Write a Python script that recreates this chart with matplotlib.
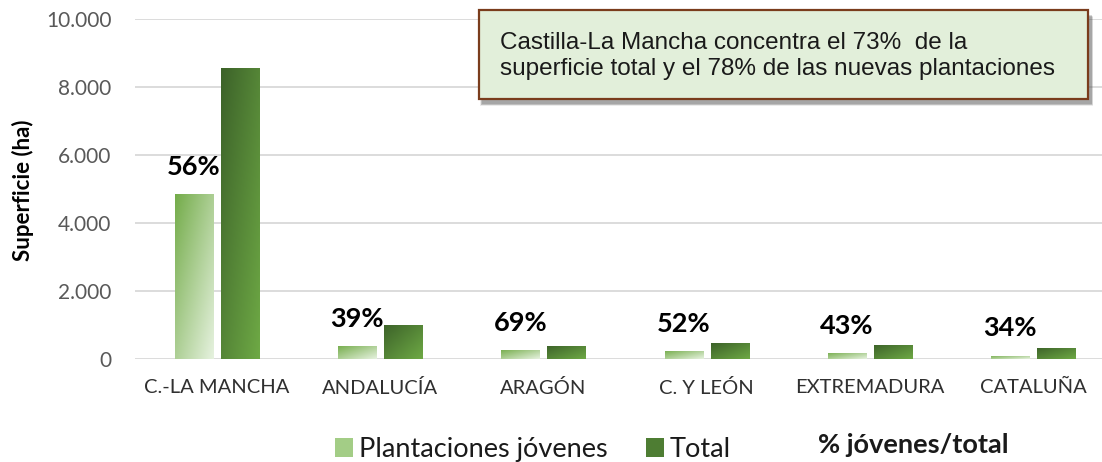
import numpy as np
import matplotlib
matplotlib.use("Agg")
from matplotlib import pyplot as plt
from matplotlib.patches import Patch, Rectangle
from matplotlib.ticker import FuncFormatter

# data
regions = ['C.-LA MANCHA', 'ANDALUCÍA', 'ARAGÓN', 'C. Y LEÓN', 'EXTREMADURA', 'CATALUÑA']
young = [4850, 390, 270, 245, 180, 110]
total = [8580, 1010, 390, 470, 420, 325]
pct_labels = ['56%', '39%', '69%', '52%', '43%', '34%']

plt.rcParams['font.family'] = ['Lato', 'DejaVu Sans']

W, H = 1102, 462
fig = plt.figure(figsize=(W / 100, H / 100), dpi=100)
ax = fig.add_axes([135 / W, 102.7 / H, 1 - 135 / W, 340 / H])

x = np.arange(len(regions))
w = 0.233
off = 0.141
bars_y = ax.bar(x - off, young, w, color='none', zorder=3)
bars_t = ax.bar(x + off, total, w, color='none', zorder=3)


# gradient fill, top-left colour to bottom-right colour
def grad_fill(bar, c1, c2):
    c1 = np.array(matplotlib.colors.to_rgb(c1))
    c2 = np.array(matplotlib.colors.to_rgb(c2))
    n = 64
    u, v = np.meshgrid(np.linspace(0, 1, n), np.linspace(0, 1, n))
    t = (0.5 * u + 0.5 * v)[..., None]
    img = c1 * (1 - t) + c2 * t
    x0, y0 = bar.get_x(), bar.get_y()
    im = ax.imshow(img, extent=[x0, x0 + bar.get_width(), y0, y0 + bar.get_height()],
                   aspect='auto', origin='upper', zorder=3, interpolation='bilinear')
    im.set_clip_path(bar)


for b in bars_y:
    grad_fill(b, '#74ac4a', '#e6f2df')
for b in bars_t:
    grad_fill(b, '#3c6229', '#6ea945')

for i, b in enumerate(bars_y):
    ax.annotate(pct_labels[i], (b.get_x() + b.get_width() / 2, b.get_height()),
                xytext=(0, 14), textcoords='offset points', ha='center', va='baseline',
                fontsize=19.5, fontweight='bold', color='black', zorder=5)

ax.set_xlim(-0.5, 5.42)
ax.set_ylim(0, 10000)
ax.set_yticks(np.arange(0, 10001, 2000))
ax.yaxis.set_major_formatter(FuncFormatter(lambda v, p: '{:,.0f}'.format(v).replace(',', '.')))
ax.set_xticks(x)
ax.set_xticklabels(regions)
ax.tick_params(axis='x', length=0, labelsize=14.5, labelcolor='#303030', pad=14)
ax.tick_params(axis='y', length=0, labelsize=15, labelcolor='#595959', pad=17)
ax.grid(axis='y', color='#d9d9d9', linewidth=1.3, zorder=0)
ax.set_axisbelow(True)
for s in ax.spines.values():
    s.set_visible(False)
ax.set_ylabel('Superficie (ha)', fontsize=16, fontweight='bold')
ax.yaxis.set_label_coords(34 / W, 1 - 190 / H, transform=fig.transFigure)

# annotation box with soft shadow
bx, by = 479 / W, 1 - 99 / H
bw, bh = (1088 - 479) / W, 89 / H
for k, a in enumerate([0.12, 0.15, 0.2, 0.25]):
    d = (4 - k) / W
    fig.patches.append(Rectangle((bx + 3 / W - d / 2, by - 5 / H - d), bw + d, bh, transform=fig.transFigure,
                                 facecolor='#606060', edgecolor='none', alpha=a, zorder=9))
fig.patches.append(Rectangle((bx, by), bw, bh, transform=fig.transFigure,
                             facecolor='#e2efda', edgecolor='#7a3c1c', linewidth=1.6, zorder=10))
fig.text(500 / W, 1 - 56 / H,
         'Castilla-La Mancha concentra el 73%  de la\nsuperficie total y el 78% de las nuevas plantaciones',
         ha='left', va='center', fontsize=17.5, linespacing=1.2, color='#1a1a1a',
         family=['Liberation Sans Narrow', 'Liberation Sans'], zorder=11)

# legend
handles = [Patch(facecolor='#a3cd86', edgecolor='none'),
           Patch(facecolor='#4e7d33', edgecolor='none')]
leg = fig.legend(handles, ['Plantaciones jóvenes', 'Total'], ncol=2,
                 loc='lower left', bbox_to_anchor=(335 / W, 0.0), frameon=False, fontsize=19.5,
                 handlelength=0.67, handleheight=0.67, handletextpad=0.22, columnspacing=1.4,
                 borderpad=0, borderaxespad=0)
for t in leg.get_texts():
    t.set_color('#1a1a1a')
fig.text(818 / W, 9 / H, '% jóvenes/total', fontsize=19.5, fontweight='bold',
         ha='left', va='baseline', color='#1a1a1a')

fig.savefig('out.png', dpi=100)
